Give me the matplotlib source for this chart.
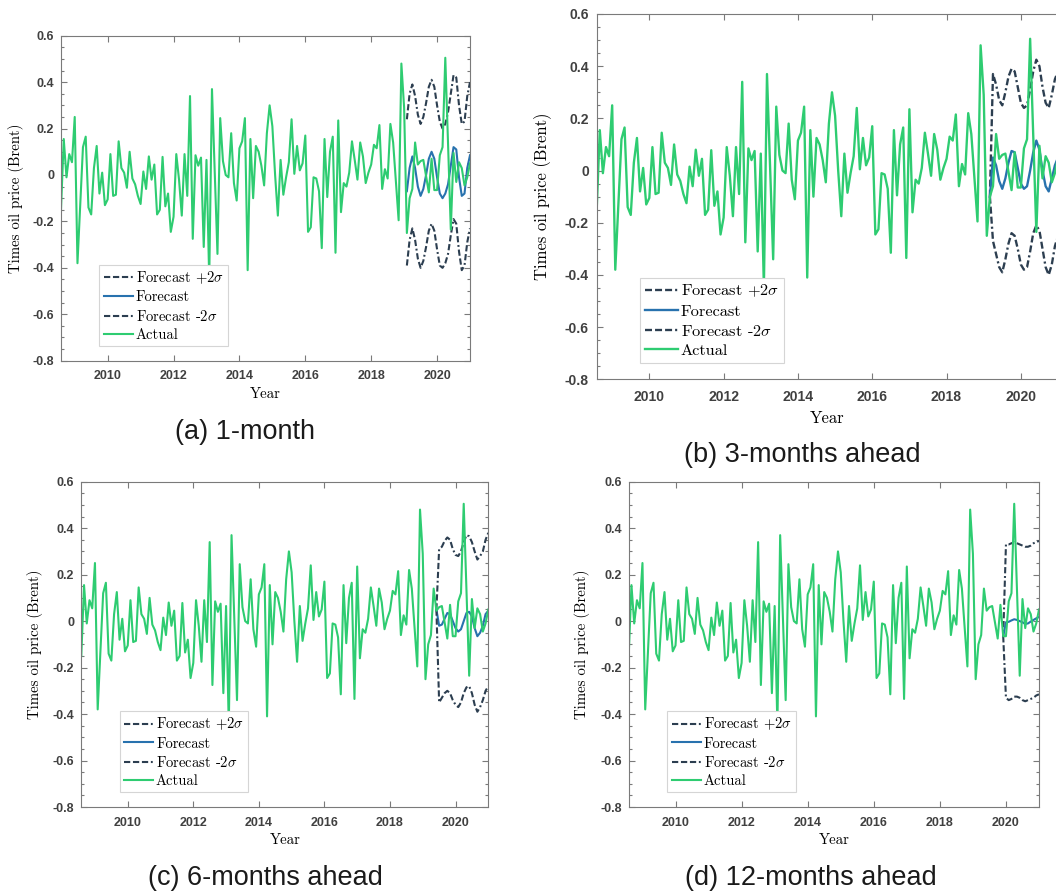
import numpy as np
import matplotlib
matplotlib.use("Agg")
import matplotlib.pyplot as plt
from matplotlib.ticker import MultipleLocator, FuncFormatter

plt.rcParams['mathtext.fontset'] = 'cm'
plt.rcParams['axes.unicode_minus'] = False

SERIF = ['cmr10', 'DejaVu Serif']
SANS = ['Liberation Sans', 'DejaVu Sans']

# monthly series, first observation Aug 2008
first_year, first_month = 2008, 8
actual = [
    -0.15, 0.155, -0.01, 0.09, 0.055, 0.25, -0.38, -0.13, 0.12, 0.165,
    -0.14, -0.17, 0.03, 0.125, -0.08, 0.01, -0.13, -0.105, 0.09, -0.09,
    -0.085, 0.145, 0.03, 0.01, -0.055, 0.10, -0.015, -0.04, -0.09, -0.125,
    0.015, -0.06, 0.08, -0.02, 0.045, -0.17, -0.15, 0.078, -0.135, -0.08,
    -0.245, -0.18, 0.09, -0.02, -0.175, 0.09, -0.09, 0.34, -0.275, 0.085,
    0.04, 0.075, -0.31, 0.065, -0.45, 0.37, 0.02, -0.34, 0.245, 0.06,
    0.0, -0.01, 0.18, -0.035, -0.11, 0.115, 0.145, 0.245, -0.41, 0.155,
    -0.10, 0.125, 0.10, 0.04, -0.045, 0.18, 0.30, 0.21, 0.0, -0.175,
    0.065, -0.085, -0.01, 0.055, 0.24, 0.005, 0.125, 0.02, 0.05, 0.17,
    -0.245, -0.225, -0.01, -0.015, -0.07, -0.315, 0.155, -0.095, 0.10, 0.165,
    -0.335, 0.235, -0.16, -0.035, -0.05, 0.01, 0.145, 0.065, -0.02, 0.14,
    0.08, -0.035, 0.01, 0.045, 0.13, 0.115, 0.215, -0.06, 0.025, -0.015,
    0.22, 0.14, -0.03, -0.195, 0.48, 0.29, -0.25, -0.10, -0.06, 0.14,
    0.045, 0.06, 0.065, -0.005, -0.075, 0.07, -0.065, -0.065, 0.085, 0.12,
    0.505, 0.14, -0.235, 0.095, -0.03, 0.055, 0.03, -0.045, -0.01, 0.05,
]

# (a) 1-month
fc1_start = 126
fc1 = [-0.07, 0.03, 0.08, 0.03, -0.05, -0.09, -0.06, 0.0, 0.07, 0.10, 0.07, -0.01,
       -0.08, -0.10, -0.08, -0.04, 0.04, 0.12, 0.11, -0.01, -0.09, -0.08, 0.03, 0.085]
fc1_hi = [0.24, 0.35, 0.39, 0.34, 0.26, 0.22, 0.25, 0.31, 0.38, 0.41, 0.38, 0.30,
          0.23, 0.20, 0.22, 0.27, 0.35, 0.43, 0.42, 0.30, 0.22, 0.23, 0.34, 0.40]
fc1_lo = [-0.39, -0.28, -0.23, -0.28, -0.36, -0.40, -0.37, -0.31, -0.24, -0.21, -0.24, -0.32,
          -0.39, -0.40, -0.38, -0.34, -0.26, -0.19, -0.21, -0.33, -0.41, -0.39, -0.29, -0.23]

# (b) 3-months ahead
fc3_start = 127
fc3 = [-0.10, 0.05, 0.02, -0.04, -0.07, -0.03, 0.03, 0.075, 0.07, 0.01, -0.05, -0.07,
       -0.06, 0.0, 0.07, 0.115, 0.08, 0.0, -0.06, -0.08, -0.03, 0.02, 0.05]
fc3_hi = [-0.10, 0.37, 0.33, 0.27, 0.25, 0.30, 0.36, 0.39, 0.38, 0.32, 0.26, 0.24,
          0.25, 0.31, 0.38, 0.425, 0.40, 0.32, 0.26, 0.24, 0.29, 0.35, 0.38]
fc3_lo = [-0.10, -0.27, -0.32, -0.37, -0.39, -0.34, -0.28, -0.24, -0.25, -0.30, -0.36, -0.38,
          -0.37, -0.31, -0.24, -0.21, -0.23, -0.30, -0.37, -0.40, -0.36, -0.29, -0.25]

# (c) 6-months ahead
fc6_start = 130
fc6 = [0.05, -0.02, -0.015, 0.01, 0.035, 0.03, 0.0, -0.03, -0.045, -0.035,
       0.0, 0.035, 0.04, 0.02, -0.03, -0.065, -0.05, -0.02, 0.03, 0.045]
fc6_hi = [0.05, 0.31, 0.32, 0.345, 0.36, 0.35, 0.31, 0.285, 0.28, 0.30,
          0.34, 0.37, 0.365, 0.34, 0.30, 0.265, 0.28, 0.30, 0.35, 0.38]
fc6_lo = [0.05, -0.35, -0.33, -0.31, -0.30, -0.31, -0.34, -0.36, -0.37, -0.35,
          -0.31, -0.285, -0.28, -0.31, -0.36, -0.39, -0.37, -0.34, -0.30, -0.28]

# (d) 12-months ahead
fc12_start = 136
fc12 = [-0.065, -0.005, -0.003, 0.003, 0.008, 0.005, 0.0, -0.005, -0.012, -0.01,
        -0.002, 0.005, 0.012, 0.018]
fc12_hi = [-0.065, 0.33, 0.33, 0.335, 0.34, 0.335, 0.33, 0.325, 0.32, 0.32,
           0.325, 0.335, 0.34, 0.345]
fc12_lo = [-0.065, -0.33, -0.34, -0.335, -0.325, -0.325, -0.33, -0.34, -0.345, -0.34,
           -0.335, -0.33, -0.32, -0.315]

captions = ['(a) 1-month', '(b) 3-months ahead', '(c) 6-months ahead', '(d) 12-months ahead']

GREEN = '#2ecc71'
NAVY = '#2c3e50'
BLUE = '#2872ae'
AXCOL = '#7a7a7a'
TICKCOL = '#404040'

W, H = 1056, 892
fig = plt.figure(figsize=(W / 100, H / 100), dpi=100)


def px_axes(l, t, r, b):
    return fig.add_axes([l / W, 1 - b / H, (r - l) / W, (b - t) / H])


years = first_year + (first_month - 1) / 12 + np.arange(len(actual)) / 12


def yfmt(v, _):
    v = round(v, 2) + 0.0
    return f"{v:g}"


def draw(ax, start, fc, hi, lo, ylab_x, xlab_y, k=1.0, right=True):
    n = len(fc)
    xf = years[start:start + n]
    dash = (0, (3.0, 1.3, 3.0, 1.3, 3.0, 1.3, 0.9, 1.3))
    lw = 1.5 * k
    ax.plot(xf, hi, color=NAVY, lw=lw, linestyle=dash, label=r'Forecast $+2\sigma$')
    ax.plot(xf, fc, color=BLUE, lw=lw, label='Forecast')
    ax.plot(xf, lo, color=NAVY, lw=lw, linestyle=dash, label=r'Forecast -$2\sigma$')
    ax.plot(years, actual, color=GREEN, lw=lw, label='Actual')

    ax.set_xlim(years[0], years[-1])
    ax.set_ylim(-0.8, 0.6)
    ax.set_xticks(np.arange(2010, 2021, 2))
    ax.yaxis.set_major_locator(MultipleLocator(0.2))
    ax.yaxis.set_minor_locator(MultipleLocator(0.05))
    ax.yaxis.set_major_formatter(FuncFormatter(yfmt))
    ax.tick_params(which='both', direction='in', top=True, right=right, color=AXCOL,
                   width=0.8)
    ax.tick_params(which='major', length=4 * k, labelsize=9 * k, labelcolor=TICKCOL)
    ax.tick_params(which='minor', length=2.2 * k)
    ax.tick_params(axis='x', pad=7 * k)
    ax.tick_params(axis='y', pad=5 * k)
    for lab in ax.get_xticklabels() + ax.get_yticklabels():
        lab.set_fontweight('bold')
        lab.set_family(SANS)
    for s in ax.spines.values():
        s.set_color(AXCOL)
        s.set_linewidth(0.8)

    ax.set_xlabel('Year', family=SERIF, fontsize=10.7 * k)
    ax.set_ylabel('Times oil price (Brent)', family=SERIF, fontsize=10.7 * k)
    ax.yaxis.set_label_coords(-ylab_x, 0.5)
    ax.xaxis.set_label_coords(0.5, -xlab_y)

    leg = ax.legend(loc='lower left', bbox_to_anchor=(0.094, 0.045),
                    prop={'family': SERIF, 'size': 10.5 * k}, frameon=True,
                    fancybox=False, framealpha=1, edgecolor='#d5d5d5',
                    handlelength=2.0, handletextpad=0.2, labelspacing=0.3,
                    borderpad=0.3, borderaxespad=0)
    leg.get_frame().set_linewidth(0.8)


axes = [
    px_axes(61, 35.7, 470, 360.7),
    px_axes(596.7, 14, 1058, 379.3),
    px_axes(81.3, 481.7, 488.3, 807),
    px_axes(628.7, 481.7, 1039, 807),
]
draw(axes[0], fc1_start, fc1, fc1_hi, fc1_lo, 0.0905, 0.083)
# panel (b) runs past the right edge of the page
draw(axes[1], fc3_start, fc3, fc3_hi, fc3_lo, 0.097, 0.085, k=1.12, right=False)
draw(axes[2], fc6_start, fc6, fc6_hi, fc6_lo, 0.094, 0.080)
draw(axes[3], fc12_start, fc12, fc12_hi, fc12_lo, 0.094, 0.080)

cap_pos = [(245, 432), (802, 455), (265, 878), (811, 878)]
for (cx, cy), txt in zip(cap_pos, captions):
    fig.text(cx / W, 1 - cy / H, txt, ha='center', va='center', fontsize=19.5,
             family=SANS, color='#1a1a1a')

fig.savefig('out.png', dpi=100)
